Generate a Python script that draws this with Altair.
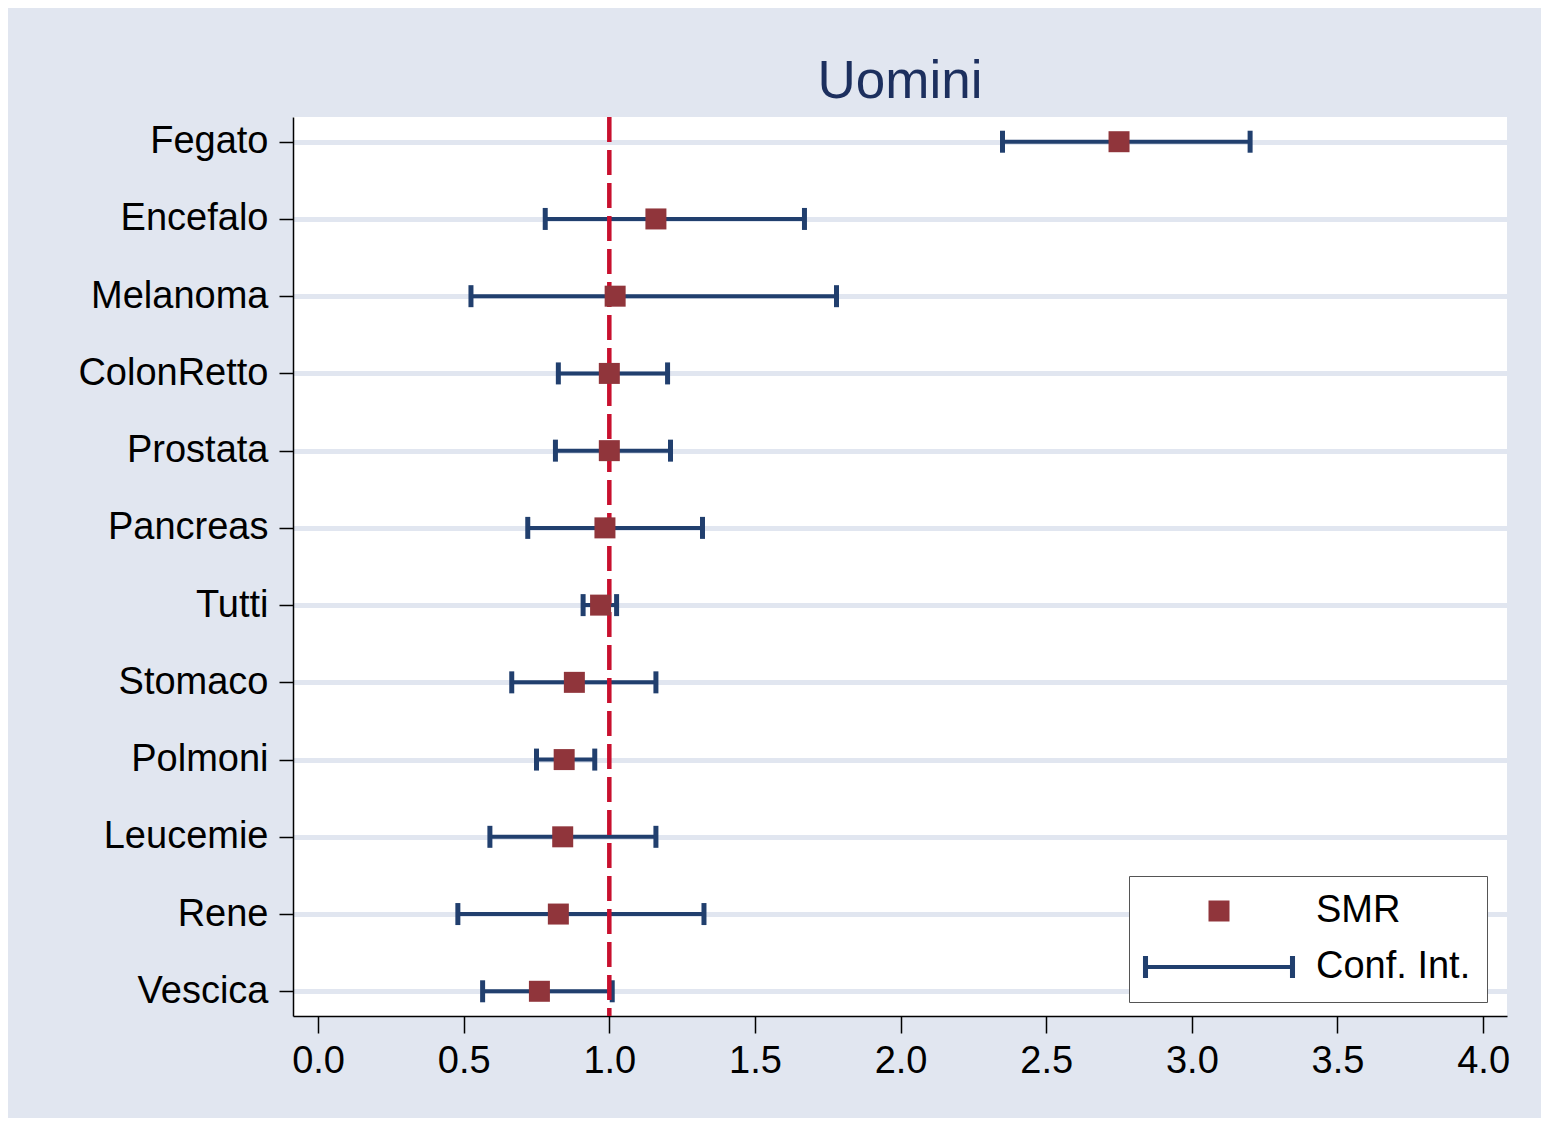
import altair as alt
import pandas as pd

# ---- data ----
categories = ["Fegato", "Encefalo", "Melanoma", "ColonRetto", "Prostata", "Pancreas",
              "Tutti", "Stomaco", "Polmoni", "Leucemie", "Rene", "Vescica"]
smr = [2.75, 1.16, 1.02, 1.00, 1.00, 0.985, 0.97, 0.88, 0.845, 0.84, 0.825, 0.76]
ci_low = [2.35, 0.78, 0.525, 0.825, 0.815, 0.72, 0.91, 0.665, 0.75, 0.59, 0.48, 0.565]
ci_high = [3.20, 1.67, 1.78, 1.20, 1.21, 1.32, 1.025, 1.16, 0.95, 1.16, 1.325, 1.01]
x_ticks = [0.0, 0.5, 1.0, 1.5, 2.0, 2.5, 3.0, 3.5, 4.0]
ref_value = [1.0]
legend_labels = ["SMR", "Conf. Int."]

df = pd.DataFrame({"cat": categories, "smr": smr, "low": ci_low, "high": ci_high,
                   "series": ["SMR"] * len(categories)})
ref_df = pd.DataFrame({"ref": ref_value})

NAVY = "#213f6e"
MAROON = "#90353b"
RED = "#c8102e"
BG = "#e1e6f0"
GRID = "#e1e6f0"
FONT = "Liberation Sans"

# custom symbol paths (unit = sqrt(size)/2 px)
SQ_PATH = "M-1,-1H1V1H-1Z"
EB_PATH = ("M-7,-0.19H7V0.19H-7Z "
           "M-7.24,-1.05H-6.76V1.05H-7.24Z "
           "M6.76,-1.05H7.24V1.05H6.76Z")

xscale = alt.Scale(domain=[-0.086, 4.082], nice=False, zero=False)
yscale = alt.Scale(type="point", padding=0.32)

xaxis = alt.Axis(values=x_ticks, format=".1f", title=None, grid=False,
                 labelFont=FONT, labelFontSize=38, labelColor="black",
                 tickSize=17, tickColor="black", tickWidth=1.5,
                 domainColor="black", domainWidth=1.5, labelPadding=9,
                 labelFlush=False, labelOverlap=False)
yaxis = alt.Axis(title=None, grid=True, gridColor=GRID, gridWidth=5,
                 labelFont=FONT, labelFontSize=38, labelColor="black", labelLimit=0,
                 tickSize=14, tickColor="black", tickWidth=1.5,
                 domainColor="black", domainWidth=1.5, labelPadding=11)

Y = alt.Y("cat:N", sort=categories, scale=yscale, axis=yaxis)

base = alt.Chart(df)

bars = base.mark_rule(color=NAVY, strokeWidth=4).encode(
    x=alt.X("low:Q", scale=xscale, axis=xaxis), x2="high:Q", y=Y)

cap_lo = base.mark_tick(color=NAVY, thickness=5, size=22, opacity=1).encode(
    x=alt.X("low:Q", scale=xscale), y=Y)
cap_hi = base.mark_tick(color=NAVY, thickness=5, size=22, opacity=1).encode(
    x=alt.X("high:Q", scale=xscale), y=Y)

ref_line = alt.Chart(ref_df).mark_rule(color=RED, strokeWidth=4.5, strokeDash=[25, 8]).encode(
    x=alt.X("ref:Q", scale=xscale))

leg = alt.Legend(title=None, orient="none", legendX=836, legendY=759,
                 padding=16, rowPadding=18, symbolOffset=55, labelOffset=78,
                 labelFont=FONT, labelFontSize=38, labelColor="black",
                 fillColor="white", strokeColor="#555555", symbolSize=441,
                 symbolStrokeWidth=0, symbolOpacity=1, cornerRadius=0)

points = base.mark_point(filled=True, size=441, opacity=1, strokeWidth=0).encode(
    x=alt.X("smr:Q", scale=xscale), y=Y,
    color=alt.Color("series:N", scale=alt.Scale(domain=legend_labels, range=[MAROON, NAVY]), legend=leg),
    shape=alt.Shape("series:N", scale=alt.Scale(domain=legend_labels, range=[SQ_PATH, EB_PATH]), legend=leg),
)

chart = alt.layer(bars, cap_lo, cap_hi, ref_line, points).properties(
    width=1214, height=899,
    padding={"left": 285, "top": 109, "right": 34, "bottom": 102},
    autosize=alt.AutoSizeParams(type="none"),
    background=BG,
    title=alt.TitleParams("Uomini", fontSize=53, color="#1c2f5e", font=FONT,
                          fontWeight="normal", anchor="middle", frame="group", offset=6),
).configure_view(fill="white", stroke=None)

chart.save("out.html", embed_options={"renderer": "svg", "actions": False})
